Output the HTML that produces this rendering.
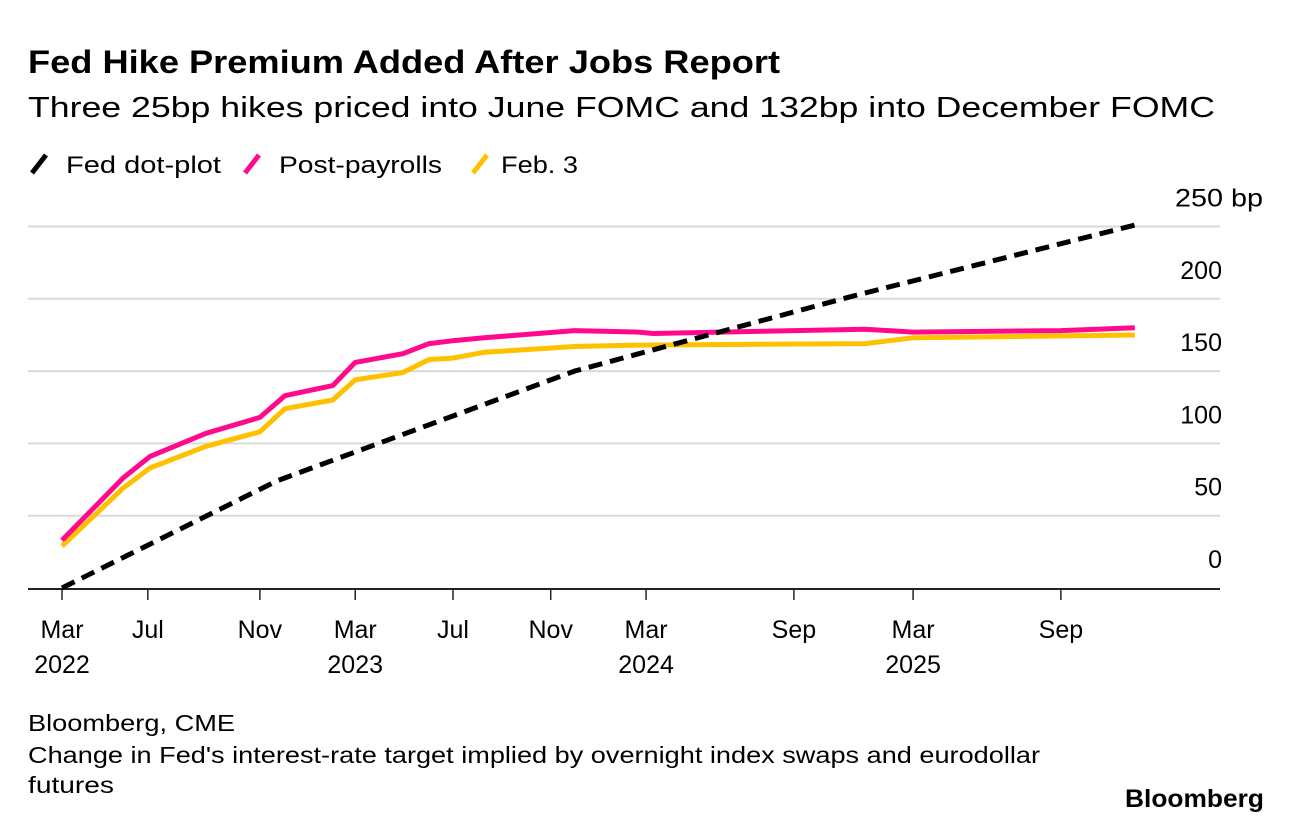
<!DOCTYPE html>
<html><head><meta charset="utf-8"><style>
body{margin:0;background:#fff;width:1292px;height:824px;overflow:hidden;font-family:"Liberation Sans",sans-serif;}
svg{position:absolute;left:0;top:0}
</style></head><body>
<svg width="1292" height="824">
<text x="28" y="73" font-size="32" font-weight="bold" fill="#000" textLength="752" lengthAdjust="spacingAndGlyphs">Fed Hike Premium Added After Jobs Report</text>
<text x="28" y="117" font-size="29" fill="#000" textLength="1187" lengthAdjust="spacingAndGlyphs">Three 25bp hikes priced into June FOMC and 132bp into December FOMC</text>
<g font-size="24">
<g><line x1="32" y1="173" x2="46" y2="155" stroke="#000" stroke-width="5"/><text x="66" y="173" textLength="155" lengthAdjust="spacingAndGlyphs">Fed dot-plot</text></g>
<g><line x1="245" y1="173" x2="259" y2="155" stroke="#ff0a8c" stroke-width="5"/><text x="279" y="173" textLength="163" lengthAdjust="spacingAndGlyphs">Post-payrolls</text></g>
<g><line x1="473" y1="173" x2="487" y2="155" stroke="#ffc000" stroke-width="5"/><text x="501" y="173" textLength="77" lengthAdjust="spacingAndGlyphs">Feb. 3</text></g>
</g>
<g id="grid"></g><g id="xaxis"></g><g id="series"></g>
<text x="28" y="731" font-size="23" textLength="207" lengthAdjust="spacingAndGlyphs">Bloomberg, CME</text>
<text x="28" y="763" font-size="23" textLength="1012" lengthAdjust="spacingAndGlyphs">Change in Fed's interest-rate target implied by overnight index swaps and eurodollar</text>
<text x="28" y="793" font-size="23" textLength="86" lengthAdjust="spacingAndGlyphs">futures</text>
<text x="1125" y="807" font-size="25" font-weight="bold" textLength="139" lengthAdjust="spacingAndGlyphs">Bloomberg</text>
</svg>
<script>
const yTicks=[0,50,100,150,200,250];
const yTickLabels=["0","50","100","150","200","250 bp"];
const xTickMonths=[0,3.6,8.3,12.3,16.4,20.5,24.5,30.7,35.7,41.9];
const xTickMonthLabels=["Mar","Jul","Nov","Mar","Jul","Nov","Mar","Sep","Mar","Sep"];
const xTickYearLabels=["2022","","","2023","","","2024","","2025",""];
const dotX=[0,9.0,21.5,24.2,33.2,45];
const dotY=[0,74,150,162,202,251];
const postX=[0,2.56,3.69,6.04,8.3,9.35,11.36,12.3,14.3,15.4,16.4,17.7,21.5,24.2,24.8,33.7,35.7,41.9,45];
const postY=[33,76,91,107,118,133,140,156,162,169,171,173,178,177,176,179,177,178,180];
const febX=[0,1.22,2.56,3.69,6.04,8.3,9.35,11.36,12.3,14.3,15.4,16.4,17.7,21.5,24.2,33.7,35.7,45];
const febY=[29,48,69,83,98,108,124,130,144,149,158,159,163,167,168,169,173,175];

const NS="http://www.w3.org/2000/svg";
const X=m=>62+m*23.84;
const Y=v=>588-v*1.446;
function mk(tag,attrs,parent){const e=document.createElementNS(NS,tag);for(const k in attrs)e.setAttribute(k,attrs[k]);parent.appendChild(e);return e;}
const grid=document.getElementById('grid');
yTicks.forEach((v,i)=>{
 if(v>0){const l=mk('line',{x1:28,x2:1220,y1:Y(v),y2:Y(v),stroke:'#d9d9d9','stroke-width':2},grid);
 
 }
 const t=mk('text',{x:1222,y:Y(v)-20,'font-size':25,'text-anchor':'end'},grid);
 if(i===yTicks.length-1){t.setAttribute('text-anchor','start');t.setAttribute('x',1175);t.setAttribute('textLength',88);t.setAttribute('lengthAdjust','spacingAndGlyphs');}
 t.textContent=yTickLabels[i];
 
 
});
const xa=document.getElementById('xaxis');
const ax=mk('line',{x1:28,x2:1220,y1:589,y2:589,stroke:'#222','stroke-width':2},xa);


xTickMonths.forEach((m,i)=>{
 const tk=mk('line',{x1:X(m),x2:X(m),y1:589,y2:600,stroke:'#222','stroke-width':1.5},xa);
 
 
 const t=mk('text',{x:X(m),y:638,'font-size':25,'text-anchor':'middle'},xa);
 t.textContent=xTickMonthLabels[i];
 
 
 if(xTickYearLabels[i]){const y=mk('text',{x:X(m),y:673,'font-size':25,'text-anchor':'middle'},xa);
 y.textContent=xTickYearLabels[i];
 
 }
});
const s=document.getElementById('series');
function line(xs,ys,color,dash,name){
 const d=xs.map((m,i)=>(i?'L':'M')+X(m).toFixed(1)+','+Y(ys[i]).toFixed(1)).join('');
 const p=mk('path',{d:d,fill:'none',stroke:color,'stroke-width':5,'stroke-linejoin':'round'},s);
 if(dash)p.setAttribute('stroke-dasharray',dash);
 
 
}
line(febX,febY,'#ffc000',null,'feb-3-line');
line(postX,postY,'#ff0a8c',null,'post-payrolls-line');
line(dotX,dotY,'#000','14 8','fed-dot-plot-line');
</script>
</body></html>
